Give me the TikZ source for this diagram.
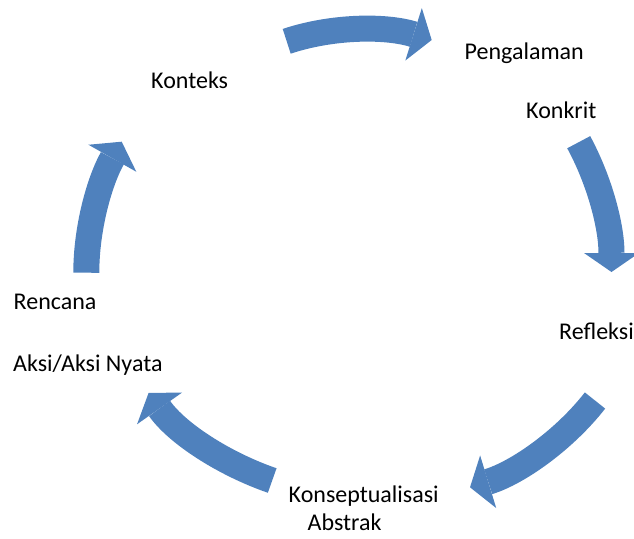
\documentclass[tikz,border=0pt]{standalone}
\usepackage{fontspec}
\setmainfont{Carlito}
\usepackage{xcolor}
\usetikzlibrary{arrows.meta}

\definecolor{cycleblue}{RGB}{79,129,189}

\begin{document}
\begin{tikzpicture}[x=1pt,y=-1pt]

\useasboundingbox (0,0) rectangle (634,538);

\tikzstyle{mylabel} = [anchor=base west, inner sep=0pt, font=\fontsize{24}{28}\selectfont]
\tikzstyle{myarrow} = [draw=cycleblue, line width=26pt, -{Triangle[length=19pt,width=55pt,line width=0pt,fill=cycleblue]}]

% labels
\node (konteks) [mylabel] at (151,88.3) {Konteks};
\node (pengalaman) [mylabel] at (464.5,59.3) {Pengalaman};
\node (konkrit) [mylabel] at (526,118.3) {Konkrit};
\node (refleksi) [mylabel] at (559,339.3) {Refleksi};
\node (konsep) [mylabel] at (288.5,502.5) {Konseptualisasi};
\node (abstrak) [mylabel] at (307.5,530.5) {Abstrak};
\node (rencana) [mylabel] at (13.5,309.3) {Rencana};
\node (aksi) [mylabel] at (13,371.7) {Aksi/Aksi Nyata};

% arrow ends
\coordinate (top1) at (286.7,41.3);
\coordinate (top2) at (431.7,40);
\coordinate (right1) at (578.7,142.2);
\coordinate (right2) at (611.5,272);
\coordinate (low1) at (595,400.5);
\coordinate (low2) at (470,487.3);
\coordinate (bot1) at (272.2,480.5);
\coordinate (bot2) at (148.6,392.9);
\coordinate (left1) at (86.3,272.7);
\coordinate (left2) at (121.7,141.7);

\draw [myarrow] (top1) .. controls (332.2,26.1) and (385.9,25.6) .. (top2);
\draw [myarrow] (right1) .. controls (600.1,181.8) and (611.5,227) .. (right2);
\draw [myarrow] (low1) .. controls (564.3,439.9) and (517.8,472.7) .. (low2);
\draw [myarrow] (bot1) .. controls (224.9,464.2) and (177.4,433.8) .. (bot2);
\draw [myarrow] (left1) .. controls (86.3,227.7) and (99.6,180.9) .. (left2);

\end{tikzpicture}
\end{document}
